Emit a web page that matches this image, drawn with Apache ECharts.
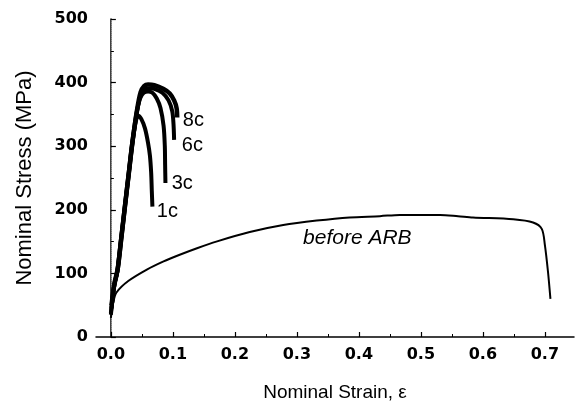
<!DOCTYPE html>
<html>
<head>
<meta charset="utf-8">
<script src="https://cdn.jsdelivr.net/npm/echarts@6/dist/echarts.min.js"></script>
<style>
  html, body { margin: 0; padding: 0; background: #fff; }
  #chart { width: 576px; height: 407px; }
</style>
</head>
<body>
<div id="chart"></div>
<script>
// strain / stress pairs
var beforeARB = [
  [0.000, 30], [0.004, 55], [0.009, 70], [0.028, 88], [0.058, 106], [0.085, 119],
  [0.110, 129], [0.140, 140], [0.170, 150], [0.224, 165], [0.278, 176], [0.332, 183],
  [0.385, 188], [0.434, 190], [0.466, 192], [0.531, 192], [0.560, 190], [0.584, 188],
  [0.649, 185], [0.681, 180], [0.695, 170], [0.700, 145], [0.705, 103], [0.709, 60]
];
var arb1c = [
  [0.000, 35], [0.005, 78], [0.010, 100], [0.016, 150], [0.022, 200], [0.028, 250],
  [0.034, 300], [0.040, 338], [0.044, 348], [0.049, 343], [0.055, 328], [0.060, 305],
  [0.063, 285], [0.065, 258], [0.066, 230], [0.067, 205]
];
var arb3c = [
  [0.000, 38], [0.005, 80], [0.010, 102], [0.016, 152], [0.022, 203], [0.028, 253],
  [0.034, 303], [0.041, 350], [0.047, 375], [0.053, 384], [0.060, 386], [0.067, 384],
  [0.074, 375], [0.080, 360], [0.085, 332], [0.087, 300], [0.0875, 270], [0.088, 242]
];
var arb6c = [
  [0.001, 45], [0.006, 84], [0.011, 105], [0.017, 155], [0.023, 206], [0.029, 256],
  [0.035, 306], [0.042, 353], [0.048, 380], [0.054, 389], [0.060, 391], [0.070, 390],
  [0.083, 384], [0.093, 372], [0.099, 355], [0.101, 335], [0.102, 310]
];
var arb8c = [
  [0.001, 50], [0.006, 86], [0.011, 107], [0.017, 157], [0.023, 208], [0.029, 258],
  [0.035, 308], [0.042, 356], [0.048, 385], [0.054, 395], [0.060, 397], [0.070, 396],
  [0.085, 390], [0.095, 383], [0.102, 372], [0.106, 360], [0.107, 345]
];
// curve labels: [strain, stress, text]
var curveLabels = [
  [0.116, 340, '8c'], [0.1145, 301, '6c'], [0.098, 241, '3c'], [0.074, 198, '1c']
];
var arbLabel = [[0.31, 155, 'before ARB']];
var xMajor = [0, 0.1, 0.2, 0.3, 0.4, 0.5, 0.6, 0.7];
var xMinor = [0.05, 0.15, 0.25, 0.35, 0.45, 0.55, 0.65];

var chart = echarts.init(document.getElementById('chart'));

function curve(data, width) {
  return {
    type: 'line', data: data, showSymbol: false, smooth: 0.3,
    lineStyle: { color: '#000', width: width }, silent: true, z: 3
  };
}
function textSeries(data, italic) {
  return {
    type: 'scatter', data: data, symbolSize: 0, silent: true, z: 5,
    itemStyle: { opacity: 1, color: '#000' },
    label: {
      show: true, position: 'right', distance: 0, opacity: 1,
      formatter: function (p) { return p.data[2]; },
      color: '#000', fontSize: italic ? 21 : 20, fontStyle: italic ? 'italic' : 'normal',
      fontFamily: 'Liberation Sans'
    }
  };
}

var option = {
  backgroundColor: '#fff',
  animation: false,
  grid: { left: 96, right: 2, top: 19, bottom: 63 },
  xAxis: [{
    type: 'value', min: -0.024, max: 0.747,
    axisLine: { lineStyle: { color: '#000', width: 1.5 } },
    axisTick: { inside: true, length: 5, customValues: xMajor, lineStyle: { color: '#000', width: 1.2 } },
    axisLabel: {
      customValues: xMajor, margin: 10,
      formatter: function (v) { return v.toFixed(1); },
      color: '#000', fontFamily: 'DejaVu Sans', fontWeight: 'bold', fontSize: 16
    },
    splitLine: { show: false },
    name: 'Nominal Strain, ε', nameLocation: 'middle', nameGap: 46,
    nameTextStyle: { color: '#000', fontFamily: 'Liberation Sans', fontSize: 19 }
  }, {
    type: 'value', min: -0.024, max: 0.747, position: 'bottom',
    axisLine: { show: false },
    axisTick: { inside: true, length: 3, customValues: xMinor, lineStyle: { color: '#000', width: 1 } },
    axisLabel: { show: false },
    splitLine: { show: false }
  }],
  yAxis: [{
    type: 'value', min: 0, max: 500, interval: 100,
    axisLine: { show: true, lineStyle: { color: '#000', width: 1.5 } },
    axisTick: { inside: true, length: 5, lineStyle: { color: '#000', width: 1.2 } },
    minorTick: { show: true, splitNumber: 2, length: 3, lineStyle: { color: '#000' } },
    axisLabel: { margin: 8, color: '#000', fontFamily: 'DejaVu Sans', fontWeight: 'bold', fontSize: 16 },
    splitLine: { show: false },
    name: 'Nominal Stress (MPa)', nameLocation: 'middle', nameGap: 60,
    nameTextStyle: { color: '#000', fontFamily: 'Liberation Sans', fontSize: 22 }
  }, {
    type: 'value', min: 0, max: 500, position: 'right',
    axisLine: { show: true, lineStyle: { color: '#999', width: 1, type: 'dotted' } },
    axisTick: { show: false }, axisLabel: { show: false }, splitLine: { show: false }
  }],
  series: [
    curve(beforeARB, 2),
    curve(arb1c, 4),
    curve(arb3c, 4),
    curve(arb6c, 4),
    curve(arb8c, 4.5),
    textSeries(curveLabels, false),
    textSeries(arbLabel, true)
  ]
};
chart.setOption(option);
</script>
</body>
</html>
